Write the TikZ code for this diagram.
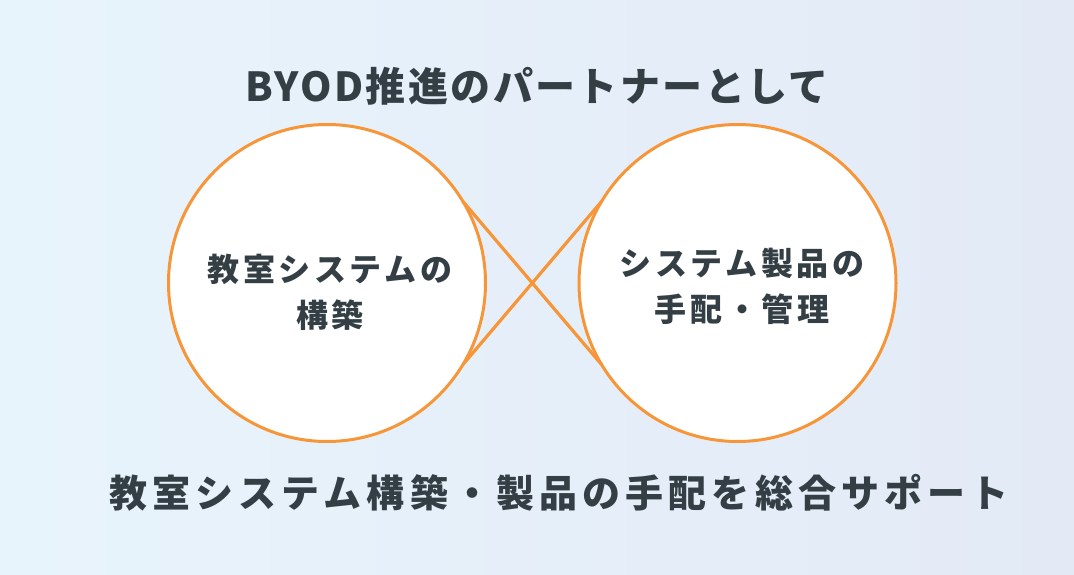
\documentclass[tikz,border=0pt]{standalone}
\usepackage{fontspec}
\setmainfont{Noto Sans CJK JP}
\newfontfamily\jptitle{Noto Sans CJK JP}[LetterSpace=6]
\newfontfamily\jpcircle{Noto Sans CJK JP}[LetterSpace=11]
\newfontfamily\jpbottom{Noto Sans CJK JP}[LetterSpace=13.5]
\definecolor{bgL}{RGB}{232,244,252}
\definecolor{bgR}{RGB}{227,234,246}
\definecolor{ink}{RGB}{52,63,69}
\definecolor{orng}{RGB}{247,150,56}
\tikzset{
  ring/.style={circle, draw=orng, line width=3pt, fill=white, minimum size=317pt, inner sep=0pt, outer sep=0pt},
  link/.style={draw=orng, line width=3.2pt},
  circletext/.style={text=ink, align=center, font=\jpcircle\bfseries\fontsize{32pt}{46pt}\selectfont},
  titletext/.style={text=ink, font=\jptitle\bfseries\fontsize{40pt}{44pt}\selectfont},
  bottomtext/.style={text=ink, font=\jpbottom\bfseries\fontsize{38pt}{42pt}\selectfont},
}
\begin{document}
\begin{tikzpicture}[x=1pt,y=1pt]
\shade[left color=bgL, right color=bgR] (0,0) rectangle (1074,574);
\useasboundingbox (0,0) rectangle (1074,574);
\node[ring] (L) at (327,291) {};
\node[ring] (R) at (737.5,291) {};
\draw[link] (L.31) -- (R.211);
\draw[link] (L.-31) -- (R.149);
\node[circletext] (Lt) at (330,282) {教室システムの\\構築};
\node[circletext] (Rt) at (742,288) {システム製品の\\手配・管理};
\node[titletext] (title) at (537,488) {BYOD推進のパートナーとして};
\node[bottomtext] (bottom) at (559,81) {教室システム構築・製品の手配を総合サポート};
\end{tikzpicture}
\end{document}
